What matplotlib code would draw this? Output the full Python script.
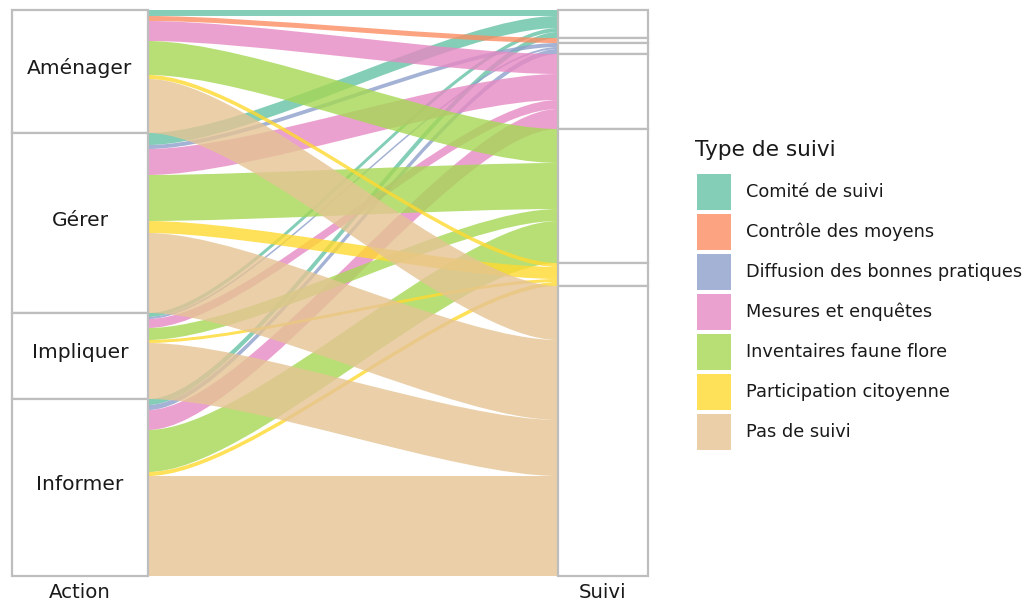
import matplotlib
matplotlib.use("Agg")
import matplotlib.pyplot as plt
from matplotlib.path import Path
from matplotlib.patches import PathPatch, Rectangle
import numpy as np

# ---------------- data ----------------
actions = ["Aménager", "Gérer", "Impliquer", "Informer"]
suivis = ["Comité de suivi", "Contrôle des moyens", "Diffusion des bonnes pratiques",
          "Mesures et enquêtes", "Inventaires faune flore", "Participation citoyenne",
          "Pas de suivi"]
# counts: rows = actions, columns = suivis
amenager = [6, 5, 0, 20, 34, 4, 54]
gerer = [12, 0, 4, 26, 46, 12, 80]
impliquer = [4, 0, 2, 9, 12, 3, 56]
informer = [6, 0, 5, 20, 42, 4, 100]
colors = ["#66C2A5", "#FC8D62", "#8DA0CB", "#E78AC3", "#A6D854", "#FFD92F", "#E5C494"]
axis_labels = ["Action", "Suivi"]
legend_title = "Type de suivi"

M = np.array([amenager, gerer, impliquer, informer], dtype=float)
total = M.sum()
alpha = 0.8

# ---------------- layout ----------------
W, H = 1034, 604
fig = plt.figure(figsize=(W / 100, H / 100), dpi=100)
ax = fig.add_axes([0, 0, 1, 1])
ax.axis("off")

pxu = 566.0 / total            # pixels per count unit
ax.set_ylim(-28 / pxu, total + 10 / pxu)
ax.set_xlim(1 - 80 / 523, 2 + 431 / 523)

xA, xS = 1.0, 2.0
hwA = 68 / 523
hwS_left = 45 / 523
hwS_right = 45 / 523
x0 = xA + hwA
x1 = xS - hwS_left

# stratum extents (top-down stacking)
row_tot = M.sum(axis=1)
col_tot = M.sum(axis=0)
row_top = total - np.concatenate([[0], np.cumsum(row_tot)[:-1]])
col_top = total - np.concatenate([[0], np.cumsum(col_tot)[:-1]])

# lode positions on each side
left_top = np.zeros_like(M)
for i in range(M.shape[0]):
    y = row_top[i]
    for j in range(M.shape[1]):
        left_top[i, j] = y
        y -= M[i, j]
right_top = np.zeros_like(M)
for j in range(M.shape[1]):
    y = col_top[j]
    for i in range(M.shape[0]):
        right_top[i, j] = y
        y -= M[i, j]

k = 0.25
d = x1 - x0
for j in range(M.shape[1]):
    for i in range(M.shape[0]):
        v = M[i, j]
        if v <= 0:
            continue
        lt, lb = left_top[i, j], left_top[i, j] - v
        rt, rb = right_top[i, j], right_top[i, j] - v
        verts = [(x0, lt), (x0 + k * d, lt), (x1 - k * d, rt), (x1, rt),
                 (x1, rb),
                 (x1 - k * d, rb), (x0 + k * d, lb), (x0, lb),
                 (x0, lt)]
        codes = [Path.MOVETO, Path.CURVE4, Path.CURVE4, Path.CURVE4,
                 Path.LINETO,
                 Path.CURVE4, Path.CURVE4, Path.CURVE4,
                 Path.CLOSEPOLY]
        ax.add_patch(PathPatch(Path(verts, codes), facecolor=colors[j],
                               edgecolor="none", alpha=alpha, zorder=2))

edge = "#BEBEBE"
for i, name in enumerate(actions):
    ax.add_patch(Rectangle((xA - hwA, row_top[i] - row_tot[i]), 2 * hwA, row_tot[i],
                           facecolor="white", edgecolor=edge, lw=1.6, zorder=3))
    ax.text(xA, row_top[i] - row_tot[i] / 2 + 3 / pxu, name, ha="center", va="center",
            fontsize=14.6, color="#1a1a1a", zorder=4)
for j in range(len(suivis)):
    ax.add_patch(Rectangle((xS - hwS_left, col_top[j] - col_tot[j]), hwS_left + hwS_right,
                           col_tot[j], facecolor="white", edgecolor=edge, lw=1.6, zorder=3))

ax.text(xA, -16 / pxu, axis_labels[0], ha="center", va="center", fontsize=14.2, color="#1a1a1a")
ax.text(xS, -16 / pxu, axis_labels[1], ha="center", va="center", fontsize=14.2, color="#1a1a1a")

# ---------------- legend ----------------
fig.text(695 / W, 1 - 150 / H, legend_title, ha="left", va="center", fontsize=15.6, color="#1a1a1a")
for j, name in enumerate(suivis):
    yc = 192 + 40 * j
    fig.patches.append(Rectangle((697 / W, 1 - (yc + 18) / H), 34 / W, 36 / H,
                                 transform=fig.transFigure, facecolor=colors[j],
                                 alpha=alpha, edgecolor="none"))
    fig.text(746 / W, 1 - yc / H, name, ha="left", va="center", fontsize=12.8, color="#1a1a1a")

fig.savefig("out.png", dpi=100)
